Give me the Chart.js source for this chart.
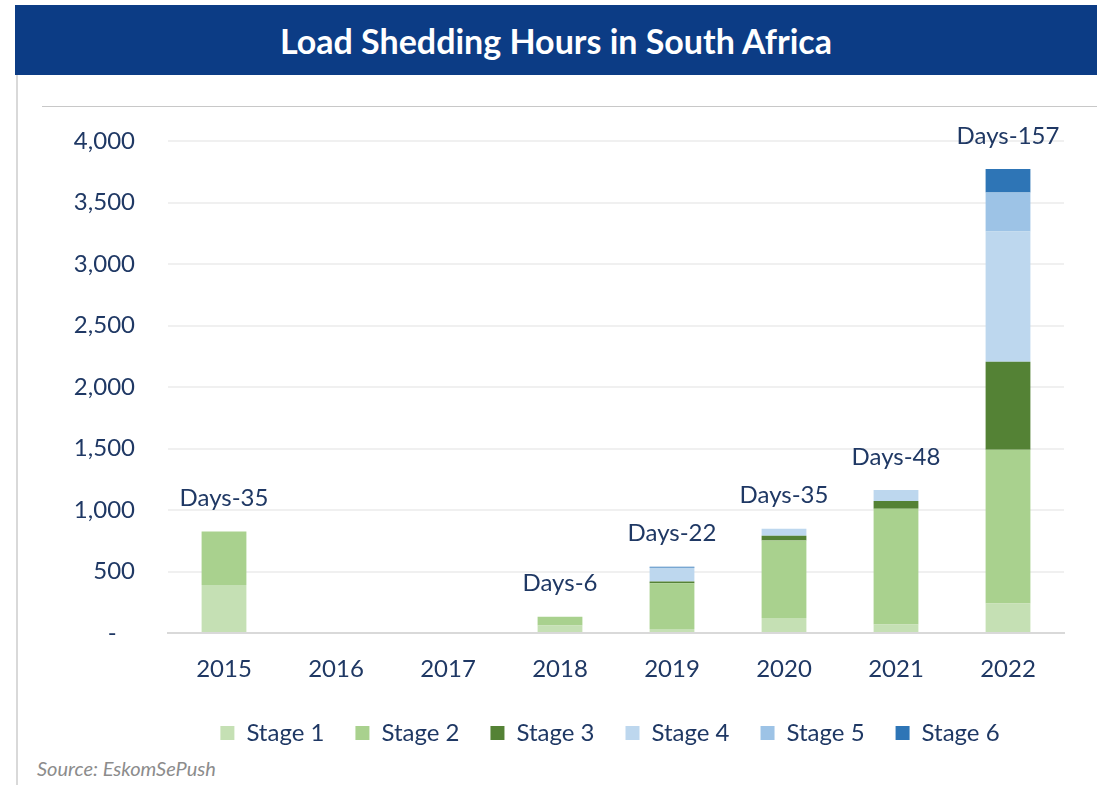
<!DOCTYPE html>
<html>
<head>
<meta charset="utf-8">
<script src="https://cdn.jsdelivr.net/npm/chart.js@4"></script>
<style>
  body { margin: 0; background: #fff; font-family: Lato, sans-serif; }
  #wrap { position: relative; width: 1097px; height: 785px; overflow: hidden; }
  #banner { position: absolute; left: 15px; top: 5px; width: 1082px; height: 70px; background: #0C3C85;
    color: #fff; font-weight: bold; font-size: 34px; text-align: center; line-height: 72px; }
  #panel { position: absolute; left: 16px; top: 75px; width: 1081px; height: 710px; border-left: 2px solid #D9D9D9; }
  #topline { position: absolute; left: 42px; top: 106px; width: 1055px; height: 1px; background: #C8C8C8; }
  #source { position: absolute; left: 37px; top: 756px; font-style: italic; font-size: 20px; color: #8C8C8C; }
  canvas { position: absolute; left: 0; top: 0; }
</style>
</head>
<body>
<div id="wrap">
  <div id="banner">Load Shedding Hours in South Africa</div>
  <div id="panel"></div>
  <div id="topline"></div>
  <div id="source">Source: EskomSePush</div>
  <canvas id="chart" width="1097" height="785"></canvas>
</div>
<script>
// datos
const years = ['2015', '2016', '2017', '2018', '2019', '2020', '2021', '2022'];
const stage1 = [390, 0, 0, 60, 33, 121, 69, 240];
const stage2 = [435, 0, 0, 72, 372, 631, 942, 1250];
const stage3 = [0, 0, 0, 0, 14, 39, 63, 715];
const stage4 = [0, 0, 0, 0, 112, 57, 88, 1060];
const stage5 = [0, 0, 0, 0, 0, 0, 0, 316];
const stage6 = [0, 0, 0, 0, 8, 0, 0, 192];
const dayLabels = ['Days-35', '', '', 'Days-6', 'Days-22', 'Days-35', 'Days-48', 'Days-157'];
const yTicks = [0, 500, 1000, 1500, 2000, 2500, 3000, 3500, 4000];

const navy = '#1F3864';
const font = { family: 'Lato', size: 24 };

const series = [
  { label: 'Stage 1', data: stage1, color: '#C5E0B4' },
  { label: 'Stage 2', data: stage2, color: '#A9D18E' },
  { label: 'Stage 3', data: stage3, color: '#548235' },
  { label: 'Stage 4', data: stage4, color: '#BDD7EE' },
  { label: 'Stage 5', data: stage5, color: '#9DC3E6' },
  { label: 'Stage 6', data: stage6, color: '#2E75B6' }
];

// etiquetas "Days-xx" encima de cada barra
const daysPlugin = {
  id: 'days',
  afterLayout(chart) {
    // la leyenda del original esta corrida a la derecha
    chart.legend.left += 78;
    chart.legend.right += 78;
  },
  afterDatasetsDraw(chart) {
    const { ctx, scales } = chart;
    ctx.save();
    ctx.font = `${font.size}px ${font.family}`;
    ctx.fillStyle = navy;
    ctx.textAlign = 'center';
    ctx.textBaseline = 'middle';
    years.forEach((y, i) => {
      if (!dayLabels[i]) return;
      const total = series.reduce((acc, s) => acc + s.data[i], 0);
      const x = scales.x.getPixelForValue(i);
      const top = scales.y.getPixelForValue(total);
      ctx.fillText(dayLabels[i], x, top - 33);
    });
    ctx.restore();
  }
};

new Chart(document.getElementById('chart').getContext('2d'), {
  type: 'bar',
  data: {
    labels: years,
    datasets: series.map(s => ({
      label: s.label,
      data: s.data,
      backgroundColor: s.color,
      borderWidth: 0,
      barPercentage: 0.4,
      categoryPercentage: 1
    }))
  },
  options: {
    responsive: false,
    animation: false,
    layout: { padding: { top: 141, right: 33, left: 0, bottom: 30 } },
    plugins: {
      legend: {
        position: 'bottom',
        labels: { font, color: navy, boxWidth: 14, boxHeight: 14, padding: 31 }
      },
      tooltip: { enabled: false }
    },
    scales: {
      x: {
        stacked: true,
        grid: { display: false },
        border: { color: '#D9D9D9', width: 2 },
        ticks: { font, color: navy, padding: 14 },
        afterFit(scale) { scale.height = 57; }
      },
      y: {
        stacked: true,
        min: 0,
        max: 4000,
        afterBuildTicks(scale) { scale.ticks = yTicks.map(v => ({ value: v })); },
        grid: {
          drawTicks: false,
          color: ctx => ctx.tick && ctx.tick.value === 0 ? 'rgba(0,0,0,0)' : '#F0F0F0',
          lineWidth: 2
        },
        border: { display: false },
        ticks: {
          font, color: navy, padding: 33,
          callback: v => v === 0 ? '-   ' : v.toLocaleString('en-US')
        },
        afterFit(scale) { scale.width = 168; }
      }
    }
  },
  plugins: [daysPlugin]
});
</script>
</body>
</html>
